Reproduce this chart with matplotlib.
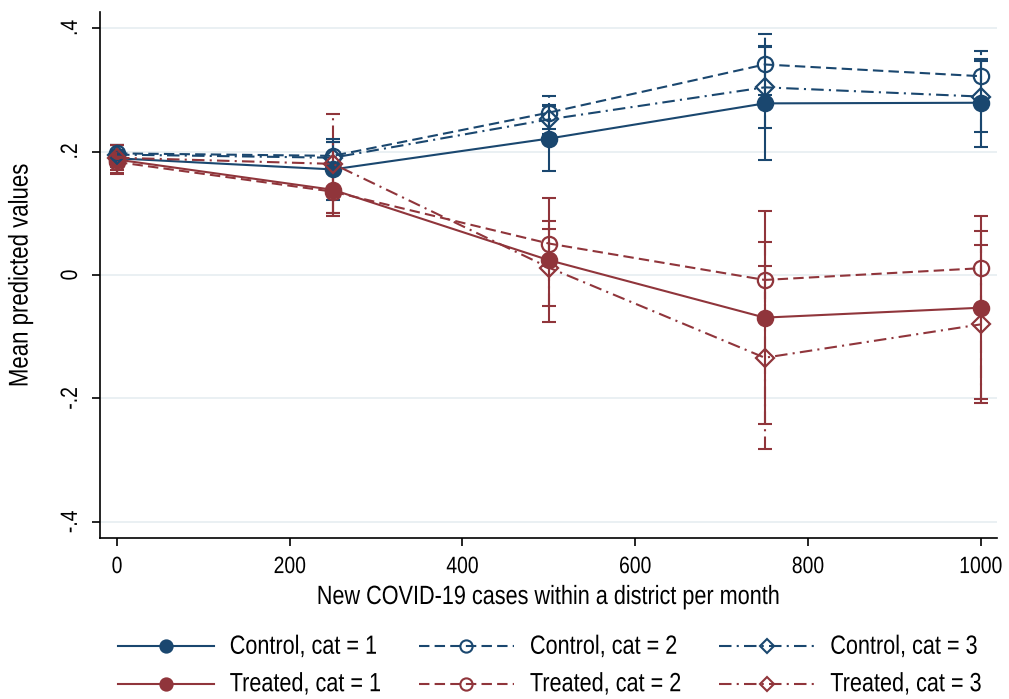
import matplotlib
matplotlib.use("Agg")
import matplotlib.pyplot as plt
from matplotlib.lines import Line2D
from matplotlib.patheffects import AbstractPathEffect
from matplotlib.transforms import Affine2D

plt.rcParams["font.family"] = ["Liberation Sans", "DejaVu Sans"]

NAVY = "#1a476f"
MAROON = "#90353b"

cases = [0, 250, 500, 750, 1000]

# Margins: point estimates with lower / upper 95% CI
control_1 = [0.189, 0.171, 0.221, 0.278, 0.279]
control_1_lo = [0.175, 0.121, 0.168, 0.187, 0.208]
control_1_hi = [0.203, 0.221, 0.274, 0.371, 0.350]

control_2 = [0.197, 0.193, 0.263, 0.341, 0.322]
control_2_lo = [0.183, 0.170, 0.236, 0.292, 0.281]
control_2_hi = [0.211, 0.216, 0.290, 0.390, 0.363]

control_3 = [0.195, 0.190, 0.252, 0.304, 0.289]
control_3_lo = [0.180, 0.165, 0.228, 0.238, 0.231]
control_3_hi = [0.210, 0.215, 0.276, 0.370, 0.347]

treated_1 = [0.187, 0.138, 0.024, -0.069, -0.053]
treated_1_lo = [0.163, 0.095, -0.076, -0.241, -0.201]
treated_1_hi = [0.211, 0.181, 0.125, 0.103, 0.095]

treated_2 = [0.183, 0.135, 0.051, -0.008, 0.011]
treated_2_lo = [0.165, 0.100, 0.014, -0.070, -0.050]
treated_2_hi = [0.201, 0.170, 0.088, 0.054, 0.072]

treated_3 = [0.190, 0.180, 0.012, -0.134, -0.080]
treated_3_lo = [0.170, 0.100, -0.050, -0.282, -0.208]
treated_3_hi = [0.210, 0.260, 0.074, 0.015, 0.048]

yticks = [-0.4, -0.2, 0, 0.2, 0.4]
ytick_labels = ["-.4", "-.2", "0", ".2", ".4"]
xticks = [0, 200, 400, 600, 800, 1000]

DASH = (0, (5, 2.5))
DASHDOT = (0, (6, 2.5, 1, 2.5))


class Narrow(AbstractPathEffect):
    """Squeeze text glyphs along the writing direction (condensed look).

    With anchor="baseline" the glyphs are stretched upward instead, so the
    text keeps a narrow layout box (used for the legend).
    """

    def __init__(self, factor=0.82, anchor="center"):
        super().__init__()
        self.factor = factor
        self.anchor = anchor

    def draw_path(self, renderer, gc, tpath, affine, rgbFace=None):
        if self.anchor == "baseline":
            squeeze = Affine2D().scale(1, 1 / self.factor)
        else:
            ext = tpath.get_extents()
            cx = (ext.x0 + ext.x1) / 2
            squeeze = Affine2D().translate(-cx, 0).scale(self.factor, 1).translate(cx, 0)
        renderer.draw_path(gc, tpath, squeeze + affine, rgbFace)


series = [
    ("Control, cat = 1", control_1, control_1_lo, control_1_hi, NAVY, "-", "o", True),
    ("Treated, cat = 1", treated_1, treated_1_lo, treated_1_hi, MAROON, "-", "o", True),
    ("Control, cat = 2", control_2, control_2_lo, control_2_hi, NAVY, DASH, "o", False),
    ("Treated, cat = 2", treated_2, treated_2_lo, treated_2_hi, MAROON, DASH, "o", False),
    ("Control, cat = 3", control_3, control_3_lo, control_3_hi, NAVY, DASHDOT, "D", False),
    ("Treated, cat = 3", treated_3, treated_3_lo, treated_3_hi, MAROON, DASHDOT, "D", False),
]

fig = plt.figure(figsize=(10.09, 6.99), dpi=100)
ax = fig.add_axes([100 / 1009, 1 - 538 / 699, 897 / 1009, 526 / 699])

cap = 8
handles = []
for label, y, lo, hi, color, ls, marker, filled in series:
    ms = 11 if marker == "o" else 9.5
    ax.vlines(cases, lo, hi, colors=color, linestyles=ls, lw=1.5, zorder=2)
    ax.hlines(lo, [c - cap for c in cases], [c + cap for c in cases],
              colors=color, lw=1.5, zorder=2)
    ax.hlines(hi, [c - cap for c in cases], [c + cap for c in cases],
              colors=color, lw=1.5, zorder=2)
    ax.plot(cases, y, color=color, linestyle=ls, lw=1.5, marker=marker,
            markersize=ms, markeredgewidth=1.6,
            markerfacecolor=color if filled else "none", zorder=3)
    handles.append(Line2D([], [], color=color, linestyle=ls, lw=1.5,
                          marker=marker, markersize=ms * 0.8,
                          markeredgewidth=1.5,
                          markerfacecolor=color if filled else "none",
                          label=label))

ax.set_xlim(-19.7, 1018.9)
ax.set_ylim(-0.426, 0.426)
ax.set_yticks(yticks)
ax.set_yticklabels(ytick_labels, rotation=90, va="center")
ax.set_xticks(xticks)
ax.tick_params(axis="both", direction="out", length=6, width=1.2,
               labelsize=17, color="black", pad=7)
ax.grid(axis="y", color="#e6eef1", lw=1.2, zorder=0)
ax.set_axisbelow(True)
for side in ("top", "right"):
    ax.spines[side].set_visible(False)
for side in ("left", "bottom"):
    ax.spines[side].set_linewidth(1.2)

ax.set_xlabel("New COVID-19 cases within a district per month", fontsize=19, labelpad=5)
ax.set_ylabel("Mean predicted values", fontsize=19.5, labelpad=19)

for t in ax.get_xticklabels() + ax.get_yticklabels():
    t.set_path_effects([Narrow()])
ax.xaxis.label.set_path_effects([Narrow()])
ax.yaxis.label.set_path_effects([Narrow()])

leg = fig.legend(handles=handles, ncol=3, loc="center", frameon=False,
                 fontsize=19 * 0.82,
                 bbox_to_anchor=(550 / 1009, 1 - 667 / 699),
                 handlelength=4.4, handletextpad=0.74, columnspacing=1.75,
                 labelspacing=0.76)
for t in leg.get_texts():
    t.set_path_effects([Narrow(anchor="baseline")])

fig.savefig("out.png", dpi=100)
